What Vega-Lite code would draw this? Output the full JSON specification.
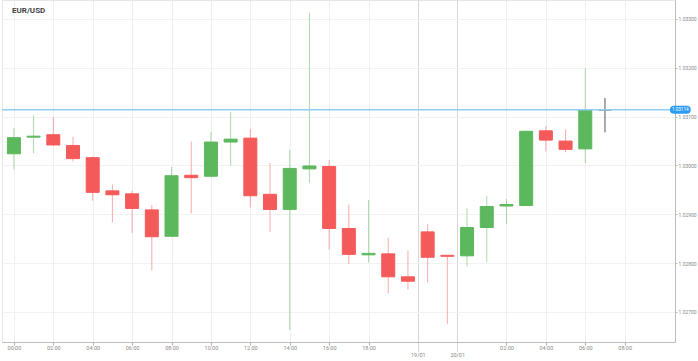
{
  "$schema": "https://vega.github.io/schema/vega-lite/v6.json",
  "width": 673,
  "height": 342,
  "autosize": {"type": "none"},
  "padding": {"left": 2, "top": 0, "right": 23, "bottom": 19},
  "background": "white",
  "config": {"view": {"stroke": "#e6e6e6"}, "font": "Roboto"},
  "title": {"text": "EUR/USD", "anchor": "start", "orient": "top", "frame": "group", "offset": -15, "dx": 10, "fontSize": 8, "fontWeight": "bold", "color": "#444444"},
  "datasets": {
    "candles": [
      {"i": 0, "open": 1.03024, "high": 1.03077, "low": 1.02992, "close": 1.03057, "dir": "up"},
      {"i": 1, "open": 1.03058, "high": 1.03103, "low": 1.03025, "close": 1.03060, "dir": "up"},
      {"i": 2, "open": 1.03063, "high": 1.03100, "low": 1.03041, "close": 1.03042, "dir": "down"},
      {"i": 3, "open": 1.03041, "high": 1.03059, "low": 1.03008, "close": 1.03014, "dir": "down"},
      {"i": 4, "open": 1.03016, "high": 1.03019, "low": 1.02928, "close": 1.02945, "dir": "down"},
      {"i": 5, "open": 1.02948, "high": 1.02961, "low": 1.02884, "close": 1.02940, "dir": "down"},
      {"i": 6, "open": 1.02942, "high": 1.02948, "low": 1.02862, "close": 1.02912, "dir": "down"},
      {"i": 7, "open": 1.02909, "high": 1.02919, "low": 1.02785, "close": 1.02854, "dir": "down"},
      {"i": 8, "open": 1.02855, "high": 1.02997, "low": 1.02854, "close": 1.02979, "dir": "up"},
      {"i": 9, "open": 1.02980, "high": 1.03049, "low": 1.02902, "close": 1.02975, "dir": "down"},
      {"i": 10, "open": 1.02978, "high": 1.03069, "low": 1.02977, "close": 1.03048, "dir": "up"},
      {"i": 11, "open": 1.03048, "high": 1.03110, "low": 1.03000, "close": 1.03054, "dir": "up"},
      {"i": 12, "open": 1.03056, "high": 1.03075, "low": 1.02914, "close": 1.02938, "dir": "down"},
      {"i": 13, "open": 1.02941, "high": 1.03005, "low": 1.02864, "close": 1.02910, "dir": "down"},
      {"i": 14, "open": 1.02910, "high": 1.03032, "low": 1.02663, "close": 1.02994, "dir": "up"},
      {"i": 15, "open": 1.02993, "high": 1.03313, "low": 1.02964, "close": 1.02999, "dir": "up"},
      {"i": 16, "open": 1.02998, "high": 1.03011, "low": 1.02828, "close": 1.02871, "dir": "down"},
      {"i": 17, "open": 1.02871, "high": 1.02920, "low": 1.02798, "close": 1.02818, "dir": "down"},
      {"i": 18, "open": 1.02817, "high": 1.02929, "low": 1.02801, "close": 1.02820, "dir": "up"},
      {"i": 19, "open": 1.02819, "high": 1.02852, "low": 1.02738, "close": 1.02772, "dir": "down"},
      {"i": 20, "open": 1.02772, "high": 1.02826, "low": 1.02746, "close": 1.02763, "dir": "down"},
      {"i": 21, "open": 1.02864, "high": 1.02880, "low": 1.02760, "close": 1.02812, "dir": "down"},
      {"i": 22, "open": 1.02816, "high": 1.02816, "low": 1.02675, "close": 1.02814, "dir": "down"},
      {"i": 23, "open": 1.02815, "high": 1.02912, "low": 1.02793, "close": 1.02873, "dir": "up"},
      {"i": 24, "open": 1.02873, "high": 1.02938, "low": 1.02802, "close": 1.02916, "dir": "up"},
      {"i": 25, "open": 1.02917, "high": 1.02931, "low": 1.02880, "close": 1.02920, "dir": "up"},
      {"i": 26, "open": 1.02918, "high": 1.03072, "low": 1.02918, "close": 1.03070, "dir": "up"},
      {"i": 27, "open": 1.03071, "high": 1.03081, "low": 1.03029, "close": 1.03052, "dir": "down"},
      {"i": 28, "open": 1.03050, "high": 1.03073, "low": 1.03027, "close": 1.03033, "dir": "down"},
      {"i": 29, "open": 1.03034, "high": 1.03199, "low": 1.03005, "close": 1.03114, "dir": "up"},
      {"i": 30, "open": 1.03114, "high": 1.03138, "low": 1.03068, "close": 1.03114, "dir": "cur"}
    ],
    "price": [{"price": 1.03114, "label": "1.03114"}]
  },
  "layer": [
    {
      "data": {"name": "candles"},
      "mark": {"type": "rule", "strokeWidth": 1},
      "encoding": {
        "x": {
          "field": "i", "type": "quantitative",
          "scale": {"domain": [-0.35, 33.3], "nice": false, "zero": false},
          "axis": {
            "title": null,
            "values": [0, 2, 4, 6, 8, 10, 12, 14, 16, 18, 20.5, 22.5, 25, 27, 29, 31],
            "labelExpr": "datum.value==20.5 ? '19/01' : datum.value==22.5 ? '20/01' : (((datum.value>23 ? datum.value-23 : datum.value) < 10 ? '0' : '') + (datum.value>23 ? datum.value-23 : datum.value) + ':00')",
            "grid": true,
            "gridColor": {"condition": {"test": "datum.value==20.5 || datum.value==22.5", "value": "#d6d6d6"}, "value": "#efefef"},
            "domainColor": "#bdbdbd",
            "tickColor": "#b0b0b0",
            "tickSize": {"condition": {"test": "datum.value==20.5 || datum.value==22.5", "value": 9}, "value": 3},
            "tickDash": {"condition": {"test": "datum.value==20.5 || datum.value==22.5", "value": [1, 1]}, "value": []},
            "labelPadding": {"condition": {"test": "datum.value==20.5 || datum.value==22.5", "value": 1}, "value": 0},
            "labelFontSize": 5.5,
            "labelColor": "#8a8a8a",
            "labelFlush": false,
            "labelOverlap": false
          }
        },
        "y": {
          "field": "low", "type": "quantitative",
          "scale": {"domain": [1.026385, 1.033389], "nice": false, "zero": false},
          "axis": {
            "title": null,
            "orient": "right",
            "values": [1.027, 1.028, 1.029, 1.03, 1.031, 1.032, 1.033],
            "format": ".5f",
            "grid": true,
            "gridColor": "#f2f2f2",
            "domainColor": "#bdbdbd",
            "tickColor": "#bdbdbd",
            "tickSize": 2,
            "labelPadding": 1,
            "labelFontSize": 5,
            "labelColor": "#8a8a8a"
          }
        },
        "y2": {"field": "high"},
        "color": {"field": "dir", "type": "nominal", "scale": {"domain": ["up", "down", "cur"], "range": ["#5cb85c", "#f55a5a", "#555555"]}, "legend": null},
        "opacity": {"condition": {"test": "datum.dir === 'cur'", "value": 1}, "value": 0.5}
      }
    },
    {
      "data": {"name": "candles"},
      "mark": {"type": "bar", "width": 13, "strokeWidth": 1},
      "encoding": {
        "x": {"field": "i", "type": "quantitative"},
        "y": {"field": "open", "type": "quantitative"},
        "y2": {"field": "close"},
        "color": {"field": "dir", "type": "nominal", "scale": {"domain": ["up", "down", "cur"], "range": ["#5cb85c", "#f55a5a", "#555555"]}, "legend": null},
        "stroke": {"field": "dir", "type": "nominal", "scale": {"domain": ["up", "down", "cur"], "range": ["#5cb85c", "#f55a5a", "#555555"]}, "legend": null}
      }
    },
    {
      "data": {"name": "price"},
      "mark": {"type": "rule", "color": "#8fcdf6", "strokeWidth": 1.5},
      "encoding": {"y": {"field": "price", "type": "quantitative"}}
    },
    {
      "data": {"name": "price"},
      "mark": {"type": "rule", "color": "#2b9cf2", "strokeWidth": 8, "strokeCap": "round"},
      "encoding": {
        "x": {"datum": 33.5},
        "x2": {"datum": 34.15},
        "y": {"field": "price", "type": "quantitative"}
      }
    },
    {
      "data": {"name": "price"},
      "mark": {"type": "text", "color": "white", "fontSize": 4.6, "align": "center", "baseline": "middle"},
      "encoding": {
        "x": {"datum": 33.82},
        "y": {"field": "price", "type": "quantitative"},
        "text": {"field": "label"}
      }
    }
  ]
}
